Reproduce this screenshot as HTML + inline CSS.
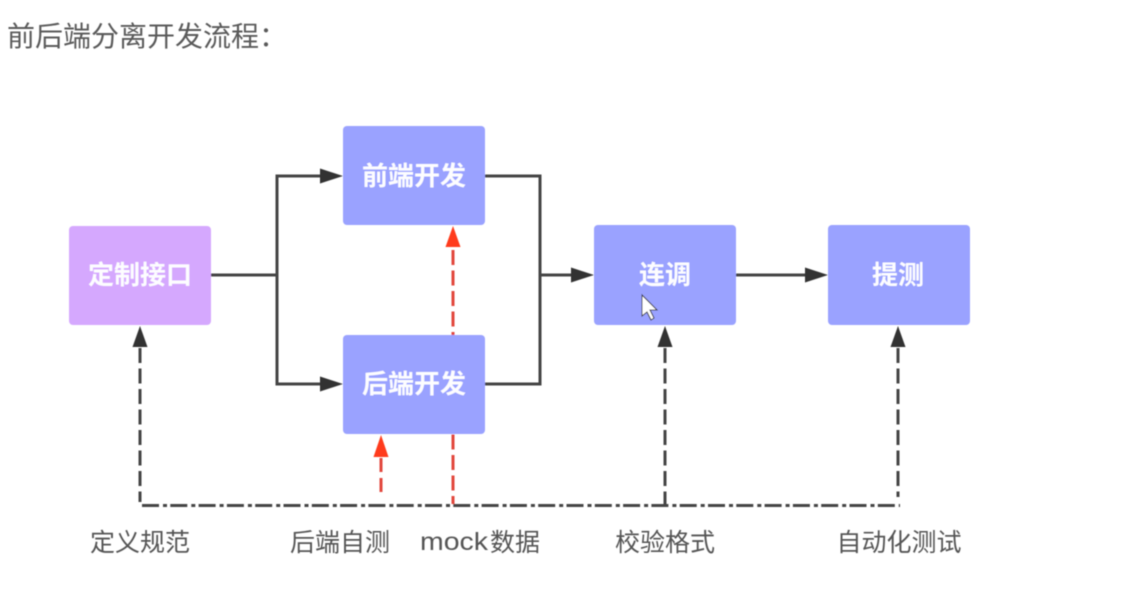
<!DOCTYPE html>
<html lang="zh">
<head>
<meta charset="utf-8">
<title>前后端分离开发流程</title>
<style>
html,body{margin:0;padding:0;background:#fff;width:1131px;height:612px;overflow:hidden}
svg{display:block}
text{font-family:"Liberation Sans","Noto Sans CJK SC",sans-serif}
.t{fill:#fdfdff;font-size:26px;font-weight:700;text-anchor:middle}
.l{fill:#555;font-size:25px;text-anchor:middle}
</style>
</head>
<body>
<svg width="1131" height="612" viewBox="0 0 1131 612" xmlns="http://www.w3.org/2000/svg">
<defs><filter id="b" x="-5%" y="-5%" width="110%" height="110%"><feGaussianBlur stdDeviation="0.55"/></filter></defs>
<rect width="1131" height="612" fill="#fff"/>
<g filter="url(#b)">
<text x="7" y="46" font-size="28" fill="#5a5a5a">前后端分离开发流程：</text>

<!-- red dashed behind boxes -->
<path d="M453 250V504" fill="none" stroke="#e2463c" stroke-width="3" stroke-dasharray="15 5.5"/>
<path d="M381 458V492" fill="none" stroke="#e2463c" stroke-width="3" stroke-dasharray="14 6"/>

<!-- boxes -->
<rect x="69" y="226" width="142" height="99" rx="4" fill="#d5a8fe"/>
<rect x="343" y="126" width="142" height="99" rx="4" fill="#9aa2ff"/>
<rect x="343" y="335" width="142" height="99" rx="4" fill="#9aa2ff"/>
<rect x="594" y="225" width="142" height="100" rx="4" fill="#9aa2ff"/>
<rect x="828" y="225" width="142" height="100" rx="4" fill="#9aa2ff"/>

<text class="t" x="140" y="284">定制接口</text>
<text class="t" x="414" y="185">前端开发</text>
<text class="t" x="414" y="393">后端开发</text>
<text class="t" x="665" y="284">连调</text>
<text class="t" x="898" y="284">提测</text>

<!-- solid connectors -->
<g fill="none" stroke="#444" stroke-width="3">
<path d="M211 275H277M322 176H277V384H322"/>
<path d="M485 176H540V384H485M540 275H574"/>
<path d="M736 275H808"/>
</g>
<g fill="#333">
<path d="M320 168.500L343 176L320 183.500Z"/>
<path d="M320 376.500L343 384L320 391.500Z"/>
<path d="M571 267.500L594 275L571 282.500Z"/>
<path d="M805 267.500L828 275L805 282.500Z"/>
<path d="M132.500 347L140 326L147.500 347Z"/>
<path d="M657.500 347L665 326L672.500 347Z"/>
<path d="M890.500 347L898 326L905.500 347Z"/>
</g>
<g fill="#ff3b1a">
<path d="M445.500 247L453 226L460.500 247Z"/>
<path d="M373.500 457L381 435L388.500 457Z"/>
</g>

<!-- dashed verticals -->
<g fill="none" stroke="#444" stroke-width="3" stroke-dasharray="15 5.500">
<path d="M140 348V502"/>
<path d="M665 348V504"/>
<path d="M898 348V497"/>
</g>
<!-- dash-dot horizontal -->
<path d="M142 505.500H900" fill="none" stroke="#444" stroke-width="3" stroke-dasharray="17 4 4 3.300"/>

<!-- labels -->
<text class="l" x="140" y="551">定义规范</text>
<text class="l" x="340" y="551">后端自测</text>
<text x="420" y="550" font-size="25" fill="#555" textLength="68" lengthAdjust="spacingAndGlyphs">mock</text>
<text x="490" y="551" font-size="25" fill="#555">数据</text>
<text class="l" x="665" y="551">校验格式</text>
<text class="l" x="899" y="551">自动化测试</text>

<!-- mouse cursor -->
<path d="M642 295V316L647 312L651 320L654 318L650 310L657 310Z" fill="#fff" stroke="#333" stroke-width="1"/>
</g>
</svg>
</body>
</html>
